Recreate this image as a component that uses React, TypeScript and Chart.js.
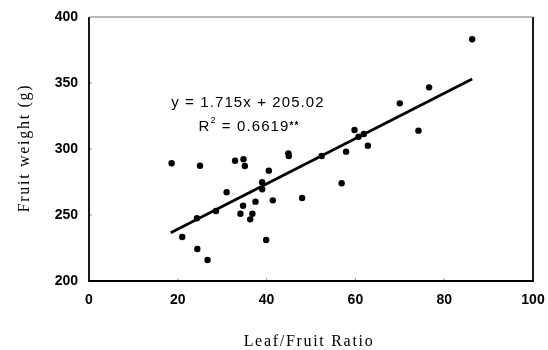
import React, { useEffect, useRef } from "react";
import { Chart, registerables } from "chart.js";

Chart.register(...registerables);

// Leaf/Fruit ratio (x) and fruit weight in g (y)
const leafFruitRatio = [
  18.6, 21.0, 24.3, 24.4, 25.0, 26.7, 28.6, 31.0, 32.9, 34.8, 35.1, 34.1, 34.7,
  36.8, 36.3, 37.5, 39.0, 39.0, 39.9, 40.5, 41.4, 44.9, 45.0, 48.0, 52.4, 56.9,
  57.9, 59.8, 60.7, 61.9, 62.8, 70.0, 74.2, 76.6, 86.3,
];
const fruitWeight = [
  289.2, 233.3, 247.5, 224.2, 287.3, 215.9, 253.0, 267.2, 291.1, 292.2, 287.1,
  251.0, 257.0, 251.0, 246.7, 260.1, 274.8, 269.5, 231.1, 283.6, 261.1, 296.7,
  294.7, 262.9, 294.7, 274.0, 298.0, 314.4, 309.3, 311.4, 302.5, 334.6, 313.9,
  346.7, 383.1,
];
const slope = 1.715;
const intercept = 205.02;
const xTicks = [0, 20, 40, 60, 80, 100];
const yTicks = [200, 250, 300, 350, 400];
const equationText = "y = 1.715x + 205.02";
const r2Label = "R";
const r2Value = " = 0.6619";
const xTitle = "Leaf/Fruit Ratio";
const yTitle = "Fruit weight (g)";

export default function App() {
  const ref = useRef<HTMLCanvasElement | null>(null);

  useEffect(() => {
    if (!ref.current) return;
    const points = leafFruitRatio.map((x, i) => ({ x, y: fruitWeight[i] }));
    const xMin = Math.min(...leafFruitRatio) - 0.2;
    const xMax = Math.max(...leafFruitRatio);
    const fitLine = [
      { x: xMin, y: slope * xMin + intercept },
      { x: xMax, y: slope * xMax + intercept },
    ];

    const decor = {
      id: "decor",
      afterDraw(chart: any) {
        const ctx = chart.ctx as CanvasRenderingContext2D;
        const a = chart.chartArea;
        const xs = chart.scales.x;
        const ys = chart.scales.y;
        ctx.save();
        // inner small ticks
        ctx.strokeStyle = "#999";
        ctx.lineWidth = 1;
        xTicks.slice(1, -1).forEach((t) => {
          const px = xs.getPixelForValue(t);
          ctx.beginPath();
          ctx.moveTo(px, a.bottom);
          ctx.lineTo(px, a.bottom - 3);
          ctx.stroke();
        });
        yTicks.slice(1, -1).forEach((t) => {
          const py = ys.getPixelForValue(t);
          ctx.beginPath();
          ctx.moveTo(a.left, py);
          ctx.lineTo(a.left + 3, py);
          ctx.stroke();
        });
        // box
        ctx.strokeStyle = "#000";
        ctx.lineWidth = 1.8;
        ctx.beginPath();
        ctx.moveTo(a.left, a.top);
        ctx.lineTo(a.left, a.bottom);
        ctx.lineTo(a.right, a.bottom);
        ctx.lineTo(a.right, a.top);
        ctx.stroke();
        ctx.strokeStyle = "#777";
        ctx.lineWidth = 1;
        ctx.beginPath();
        ctx.moveTo(a.left, a.top);
        ctx.lineTo(a.right, a.top);
        ctx.stroke();

        // axis titles
        ctx.fillStyle = "#000";
        ctx.font = '16px "Liberation Serif", serif';
        (ctx as any).letterSpacing = "1.7px";
        ctx.textAlign = "center";
        ctx.textBaseline = "middle";
        ctx.fillText(xTitle, 309, 342);
        ctx.save();
        ctx.translate(25, 148);
        ctx.rotate(-Math.PI / 2);
        ctx.fillText(yTitle, 0, 0);
        ctx.restore();

        // equation
        ctx.font = '15px "Liberation Sans", Arial, sans-serif';
        (ctx as any).letterSpacing = "1.1px";
        ctx.textAlign = "center";
        ctx.fillText(equationText, 248, 103);
        // R^2 line
        const wR = ctx.measureText(r2Label).width;
        ctx.font = '9px "Liberation Sans", Arial, sans-serif';
        const wSup = ctx.measureText("2").width;
        ctx.font = '15px "Liberation Sans", Arial, sans-serif';
        const wVal = ctx.measureText(r2Value).width;
        ctx.font = 'bold 10px "Liberation Sans", Arial, sans-serif';
        const wStar = ctx.measureText("**").width;
        const total = wR + wSup + wVal + wStar;
        let x0 = 249 - total / 2;
        ctx.textAlign = "left";
        ctx.font = '15px "Liberation Sans", Arial, sans-serif';
        ctx.fillText(r2Label, x0, 127);
        x0 += wR;
        ctx.font = '9px "Liberation Sans", Arial, sans-serif';
        ctx.fillText("2", x0, 121);
        x0 += wSup;
        ctx.font = '15px "Liberation Sans", Arial, sans-serif';
        ctx.fillText(r2Value, x0, 127);
        x0 += wVal;
        ctx.font = 'bold 10px "Liberation Sans", Arial, sans-serif';
        ctx.fillText("**", x0, 126);
        ctx.restore();
      },
    };

    const tickFont = { family: '"Liberation Sans", Arial, sans-serif', size: 14, weight: "bold" as const };

    const chart = new Chart(ref.current, {
      type: "scatter",
      data: {
        datasets: [
          {
            data: points,
            backgroundColor: "#000",
            borderColor: "#000",
            pointRadius: 3.2,
            pointBorderWidth: 0,
          } as any,
          {
            type: "line",
            data: fitLine,
            borderColor: "#000",
            borderWidth: 2.7,
            pointRadius: 0,
            showLine: true,
            fill: false,
          } as any,
        ],
      },
      options: {
        animation: false,
        responsive: false,
        maintainAspectRatio: false,
        layout: { padding: { top: 17, right: 15, left: 0, bottom: 0 } },
        plugins: { legend: { display: false }, tooltip: { enabled: false } },
        scales: {
          x: {
            type: "linear",
            min: 0,
            max: 100,
            afterBuildTicks: (s: any) => {
              s.ticks = xTicks.map((v) => ({ value: v }));
            },
            ticks: { font: tickFont, color: "#000", padding: 11, maxRotation: 0 },
            grid: { display: false, drawTicks: false },
            border: { display: false },
            afterFit: (s: any) => {
              s.height = 69;
              s.paddingLeft = 0;
              s.paddingRight = 0;
            },
          },
          y: {
            type: "linear",
            min: 200,
            max: 400,
            afterBuildTicks: (s: any) => {
              s.ticks = yTicks.map((v) => ({ value: v }));
            },
            ticks: { font: tickFont, color: "#000", padding: 11 },
            grid: { display: false, drawTicks: false },
            border: { display: false },
            afterFit: (s: any) => {
              s.width = 89;
              s.paddingTop = 0;
              s.paddingBottom = 0;
            },
          },
        },
      },
      plugins: [decor],
    });
    return () => chart.destroy();
  }, []);

  return (
    <div style={{ position: "absolute", left: 0, top: 0, width: 548, height: 350, background: "#fff" }}>
      <canvas ref={ref} width={548} height={350} style={{ width: 548, height: 350, display: "block" }} />
    </div>
  );
}
